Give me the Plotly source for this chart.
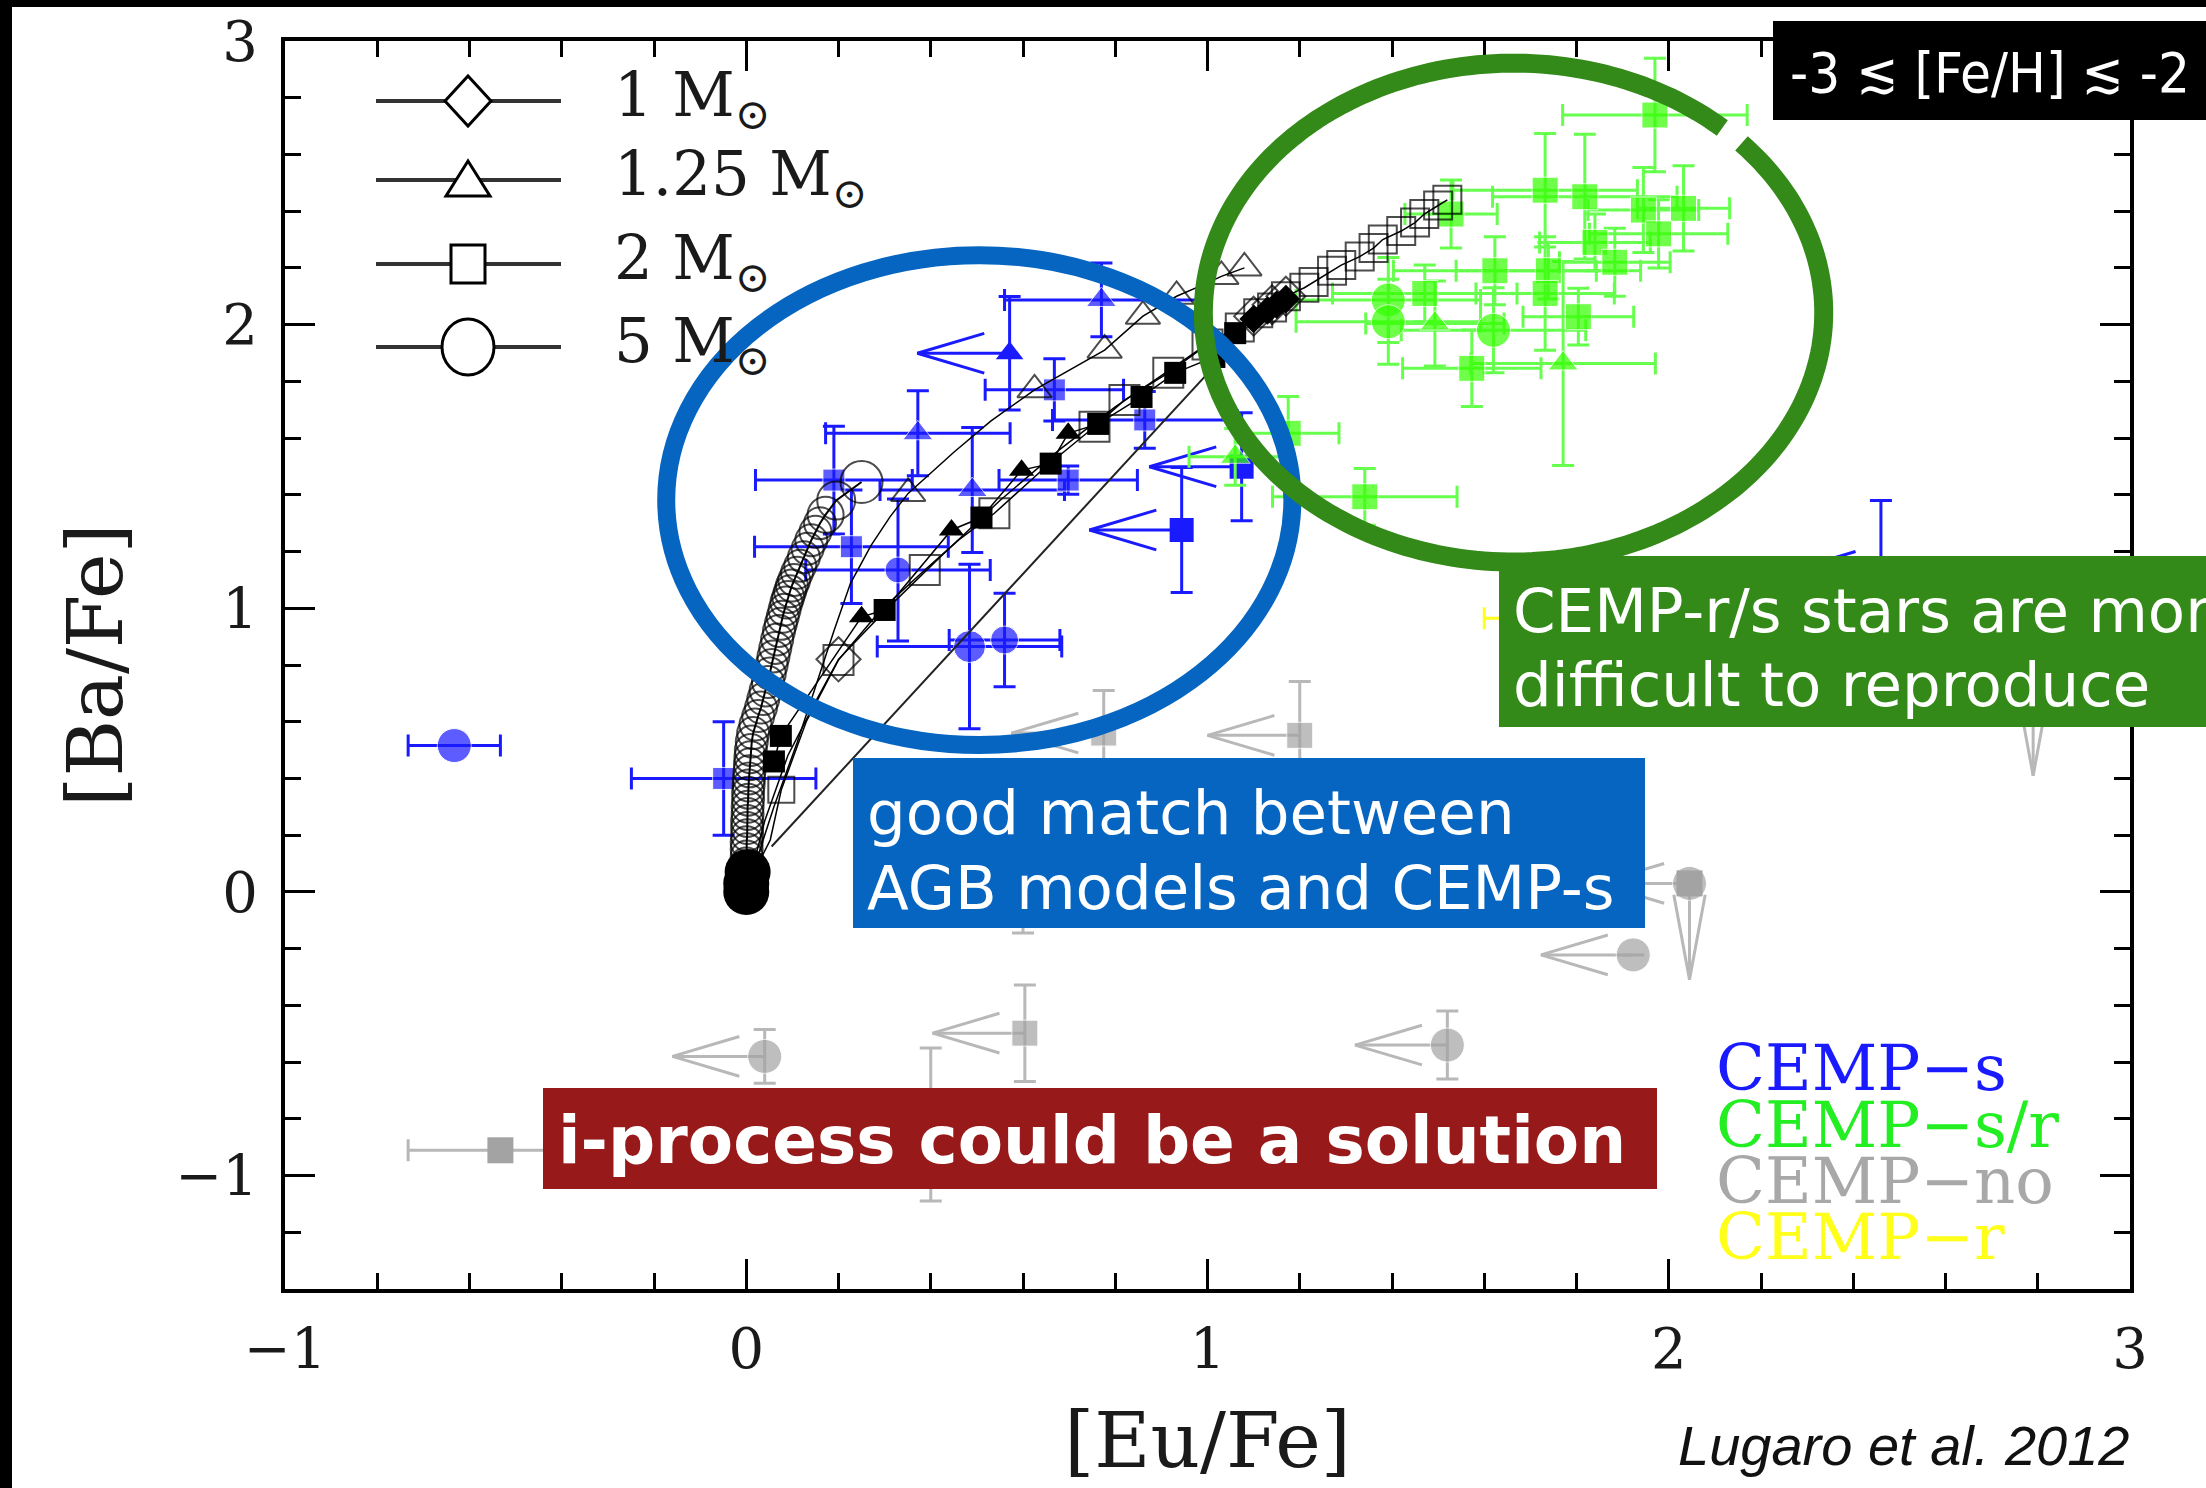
import numpy as np
import plotly.graph_objects as go

# ---------------- axis ticks ----------------
x_ticks = [-1, 0, 1, 2, 3]
y_ticks = [-1, 0, 1, 2, 3]
x_ticklabels = ["\u22121", "0", "1", "2", "3"]
y_ticklabels = ["\u22121", "0", "1", "2", "3"]

# ---------------- CEMP-s (blue) ----------------
s_x = [-0.633, -0.049, 0.190, 0.372, 0.228, 0.329, 0.490, 0.668, 0.698, 0.484, 0.560, 0.770, 0.864]
s_y = [0.516, 0.400, 1.452, 1.617, 1.217, 1.135, 1.417, 1.770, 1.452, 0.865, 0.888, 2.087, 1.664]
s_xerr = [0.10, 0.20, 0.17, 0.20, 0.21, 0.20, 0.20, 0.15, 0.15, 0.20, 0.12, 0.21, 0.20]
s_yerr = [0.00, 0.20, 0.19, 0.15, 0.20, 0.25, 0.22, 0.11, 0.05, 0.29, 0.165, 0.13, 0.10]
s_sym = ["circle", "square", "square", "triangle-up", "square", "circle", "triangle-up",
         "square", "square", "circle", "circle", "triangle-up", "square"]
s_size = [34, 22, 22, 26, 22, 26, 26, 22, 22, 32, 28, 26, 22]
# CEMP-s upper limits on [Eu/Fe]
sl_x = [0.571, 0.944, 1.074, 2.460]
sl_y = [1.899, 1.276, 1.499, 1.130]
sl_yerr = [0.20, 0.22, 0.19, 0.25]
sl_sym = ["triangle-up", "square", "square", "square"]

# ---------------- CEMP-s/r (green) ----------------
r_x = [1.970, 1.732, 1.818, 1.945, 2.032, 1.978, 1.840, 1.883, 1.623, 1.739, 1.732, 1.804,
       1.620, 1.573, 1.771, 1.392, 1.392, 1.471, 1.493, 1.341, 1.175, 1.060, 1.528]
r_y = [2.739, 2.474, 2.451, 2.404, 2.410, 2.320, 2.290, 2.220, 2.190, 2.190, 2.110, 2.028,
       1.980, 1.846, 1.863, 2.087, 2.010, 2.110, 2.004, 1.393, 1.617, 1.534, 2.390]
r_xerr = [0.20, 0.20, 0.20, 0.12, 0.10, 0.15, 0.12, 0.12, 0.22, 0.20, 0.15, 0.12,
          0.20, 0.15, 0.20, 0.20, 0.20, 0.20, 0.15, 0.20, 0.11, 0.10, 0.10]
r_yerr = [0.20, 0.20, 0.22, 0.15, 0.15, 0.12, 0.10, 0.12, 0.12, 0.10, 0.20, 0.10,
          0.15, 0.135, 0.36, 0.15, 0.15, 0.10, 0.15, 0.10, 0.13, 0.10, 0.12]
r_sym = ["square"] * 12 + ["circle", "square", "triangle-up", "circle", "circle", "square",
                           "triangle-up", "square", "square", "triangle-up", "square"]

# ---------------- CEMP-no (grey) ----------------
n_x = [-0.533, 0.400, 0.600]
n_y = [-0.911, -0.820, 0.100]
n_xerr = [0.20, 0.0, 0.0]
n_yerr = [0.0, 0.27, 0.245]
n_sym = ["square", "square", "square"]
# upper limits on [Eu/Fe]
nl_x = [0.040, 0.604, 1.520, 1.923, 2.045, 1.200, 0.775]
nl_y = [-0.580, -0.498, -0.540, -0.222, 0.030, 0.552, 0.560]
nl_yerr = [0.095, 0.17, 0.12, 0.0, 0.0, 0.19, 0.15]
nl_sym = ["circle", "square", "circle", "circle", "circle", "square", "square"]
# upper limits on [Ba/Fe]
nd_x = [2.045, 2.790]
nd_y = [0.030, 0.750]

# ---------------- CEMP-r (yellow) ----------------
e_x = [1.660]
e_y = [0.965]
e_xerr = [0.06]

# ---------------- AGB model tracks ----------------
m5_x = [0.000, 0.000, 0.000, 0.000, 0.000, 0.001, 0.001, 0.001, 0.002, 0.002,
        0.002, 0.003, 0.003, 0.004, 0.004, 0.005, 0.006, 0.007, 0.008, 0.009,
        0.010, 0.012, 0.015, 0.020, 0.026, 0.032, 0.037, 0.042, 0.047, 0.051,
        0.055, 0.059, 0.063, 0.067, 0.071, 0.075, 0.079, 0.083, 0.087, 0.091,
        0.095, 0.099, 0.104, 0.110, 0.117, 0.125, 0.133, 0.141, 0.150, 0.160,
        0.172, 0.195, 0.250]
m5_y = [0.000, 0.025, 0.050, 0.075, 0.100, 0.125, 0.150, 0.175, 0.200, 0.225,
        0.250, 0.275, 0.300, 0.325, 0.350, 0.375, 0.400, 0.425, 0.450, 0.475,
        0.500, 0.530, 0.560, 0.590, 0.620, 0.650, 0.680, 0.710, 0.740, 0.770,
        0.800, 0.830, 0.860, 0.890, 0.920, 0.945, 0.970, 0.995, 1.020, 1.040,
        1.060, 1.080, 1.100, 1.125, 1.150, 1.180, 1.210, 1.240, 1.270, 1.300,
        1.330, 1.380, 1.445]
m5_size = [32] * 50 + [36, 38, 42]

m125_x = [0.02, 0.06, 0.11, 0.153, 0.19, 0.226, 0.27, 0.312, 0.351, 0.45, 0.53, 0.625,
          0.70, 0.777, 0.86, 0.933, 0.99, 1.03, 1.08]
m125_y = [0.10, 0.30, 0.525, 0.736, 0.92, 1.088, 1.22, 1.323, 1.405, 1.55, 1.66, 1.77,
          1.84, 1.91, 2.03, 2.10, 2.14, 2.17, 2.20]
m125_size = [0, 0, 0, 0, 0, 0, 0, 0, 30, 0, 0, 30, 0, 30, 30, 30, 0, 30, 30]

m2_x = [0.02, 0.052, 0.076, 0.13, 0.20, 0.29, 0.387, 0.46, 0.538, 0.65, 0.755, 0.82,
        0.915, 1.00, 1.07, 1.11, 1.14, 1.17, 1.21, 1.23, 1.27, 1.29, 1.33, 1.36, 1.38,
        1.42, 1.45, 1.47, 1.50, 1.52]
m2_y = [0.08, 0.183, 0.36, 0.60, 0.818, 0.99, 1.135, 1.24, 1.335, 1.50, 1.64, 1.734,
        1.83, 1.93, 1.99, 2.04, 2.06, 2.10, 2.13, 2.15, 2.19, 2.21, 2.24, 2.27, 2.30,
        2.33, 2.36, 2.39, 2.42, 2.44]
m2_size = [0, 0, 26, 0, 30, 0, 30, 0, 30, 0, 30, 30, 30, 30] + [28] * 16

m1_x = [0.01, 0.04, 0.09, 0.15, 0.20, 0.30, 0.42, 0.55, 0.68, 0.80, 0.90, 0.98, 1.05,
        1.10, 1.14, 1.17]
m1_y = [0.06, 0.25, 0.48, 0.67, 0.82, 0.99, 1.18, 1.38, 1.56, 1.71, 1.82, 1.91, 1.98,
        2.03, 2.07, 2.10]
m1_size = [0, 0, 0, 0, 34, 0, 0, 0, 0, 0, 0, 0, 0, 30, 30, 30]

f_x = [0.060, 0.075, 0.250, 0.300, 0.445, 0.510, 0.597, 0.660, 0.698, 0.763, 0.857, 0.930,
       1.015, 1.060, 1.100, 1.130, 1.150, 1.170]
f_y = [0.460, 0.550, 0.970, 0.994, 1.276, 1.320, 1.487, 1.510, 1.617, 1.650, 1.745, 1.830,
       1.886, 1.970, 2.020, 2.050, 2.070, 2.090]
f_sym = ["square", "square", "triangle-up", "square", "triangle-up", "square", "triangle-up",
         "square", "triangle-up", "square", "square", "square", "square", "square",
         "diamond", "diamond", "diamond", "diamond"]

origin_x = [0.000, 0.000, 0.003]
origin_y = [0.000, 0.030, 0.070]

dil_x = [0.055, 1.030]
dil_y = [0.160, 1.880]

# ---------------- helpers ----------------
BLUE = "#1a1aff"
GREEN = "#33ff00"
GREEN_ERR = "#66ff4d"
GREY = "#a3a3a3"
GREY_ERR = "#b8b8b8"
YELLOW = "#ffff1a"
SERIF = "DejaVu Serif"


def left_arrows(xs, ys, length=0.2, ax=0.145, ay=0.07):
    X, Y = [], []
    for x, y in zip(xs, ys):
        tip = x - length
        X += [x, tip, None, tip + ax, tip, tip + ax, None]
        Y += [y, y, None, y + ay, y, y - ay, None]
    return X, Y


def down_arrows(xs, ys, length=0.34, ax=0.034, ay=0.30):
    X, Y = [], []
    for x, y in zip(xs, ys):
        tip = y - length
        X += [x, x, None, x - ax, x, x + ax, None]
        Y += [y, tip, None, tip + ay, tip, tip + ay, None]
    return X, Y


fig = go.Figure()

# CEMP-no
fig.add_trace(go.Scatter(
    x=n_x, y=n_y, mode="markers",
    marker=dict(symbol=n_sym, size=26, color=GREY),
    error_x=dict(type="data", array=n_xerr, color=GREY_ERR, thickness=3, width=11),
    error_y=dict(type="data", array=n_yerr, color=GREY_ERR, thickness=3, width=11),
    showlegend=False))
ax_, ay_ = left_arrows(nl_x, nl_y)
fig.add_trace(go.Scatter(x=ax_, y=ay_, mode="lines", line=dict(color=GREY_ERR, width=3),
                         showlegend=False))
dx_, dy_ = down_arrows(nd_x, nd_y)
fig.add_trace(go.Scatter(x=dx_, y=dy_, mode="lines", line=dict(color=GREY_ERR, width=3),
                         showlegend=False))
fig.add_trace(go.Scatter(
    x=nl_x, y=nl_y, mode="markers",
    marker=dict(symbol=nl_sym, size=[34 if s == "circle" else 26 for s in nl_sym], color=GREY),
    error_y=dict(type="data", array=nl_yerr, color=GREY_ERR, thickness=3, width=11),
    showlegend=False))
fig.add_trace(go.Scatter(x=nd_x, y=nd_y, mode="markers",
                         marker=dict(symbol="square", size=26, color=GREY), showlegend=False))

# CEMP-r
fig.add_trace(go.Scatter(
    x=e_x, y=e_y, mode="markers", marker=dict(symbol="square", size=20, color=YELLOW),
    error_x=dict(type="data", array=e_xerr, color=YELLOW, thickness=3, width=11),
    showlegend=False))

# CEMP-s
fig.add_trace(go.Scatter(
    x=s_x, y=s_y, mode="markers",
    marker=dict(symbol=s_sym, size=s_size, color=BLUE),
    error_x=dict(type="data", array=s_xerr, color=BLUE, thickness=3, width=11),
    error_y=dict(type="data", array=s_yerr, color=BLUE, thickness=3, width=11),
    showlegend=False))
bx_, by_ = left_arrows(sl_x, sl_y)
fig.add_trace(go.Scatter(x=bx_, y=by_, mode="lines", line=dict(color=BLUE, width=3),
                         showlegend=False))
fig.add_trace(go.Scatter(
    x=sl_x, y=sl_y, mode="markers",
    marker=dict(symbol=sl_sym, size=24, color=BLUE),
    error_y=dict(type="data", array=sl_yerr, color=BLUE, thickness=3, width=11),
    showlegend=False))

# CEMP-s/r
fig.add_trace(go.Scatter(
    x=r_x, y=r_y, mode="markers",
    marker=dict(symbol=r_sym, size=[34 if s == "circle" else 26 for s in r_sym], color=GREEN),
    error_x=dict(type="data", array=r_xerr, color=GREEN_ERR, thickness=3, width=11),
    error_y=dict(type="data", array=r_yerr, color=GREEN_ERR, thickness=3, width=11),
    showlegend=False))

# Models
fig.add_trace(go.Scatter(x=dil_x, y=dil_y, mode="lines",
                         line=dict(color="#222", width=2), showlegend=False))
fig.add_trace(go.Scatter(
    x=m5_x, y=m5_y, mode="lines+markers", line=dict(color="black", width=2),
    marker=dict(symbol="circle-open", size=m5_size, color="black", line=dict(width=2)),
    showlegend=False))
fig.add_trace(go.Scatter(
    x=m1_x, y=m1_y, mode="lines+markers", line=dict(color="black", width=1.5),
    marker=dict(symbol="diamond-open", size=m1_size, color="black", line=dict(width=2)),
    showlegend=False))
fig.add_trace(go.Scatter(
    x=m125_x, y=m125_y, mode="lines+markers", line=dict(color="black", width=1.5),
    marker=dict(symbol="triangle-up-open", size=m125_size, color="black", line=dict(width=2)),
    showlegend=False))
fig.add_trace(go.Scatter(
    x=m2_x, y=m2_y, mode="lines+markers", line=dict(color="black", width=1.5),
    marker=dict(symbol="square-open", size=m2_size, color="black", line=dict(width=2)),
    showlegend=False))
fig.add_trace(go.Scatter(
    x=f_x, y=f_y, mode="lines+markers", line=dict(color="black", width=1.5),
    marker=dict(symbol=f_sym, size=22, color="black"),
    showlegend=False))
fig.add_trace(go.Scatter(
    x=origin_x, y=origin_y, mode="markers",
    marker=dict(symbol="circle", size=46, color="black"), showlegend=False))

# ---------------- layout geometry (pixels -> paper) ----------------
PL, PR, PT, PB = 285, 2130, 41, 1289
W, H = PR - PL, PB - PT


def P(xp):
    return (xp - PL) / W


def Q(yp):
    return (PB - yp) / H


shapes = []
# black screenshot borders
shapes.append(dict(type="rect", xref="paper", yref="paper", x0=P(0), x1=P(12), y0=Q(1490), y1=Q(0),
                   fillcolor="black", line=dict(width=0), layer="above"))
shapes.append(dict(type="rect", xref="paper", yref="paper", x0=P(0), x1=P(2210), y0=Q(7), y1=Q(0),
                   fillcolor="black", line=dict(width=0), layer="above"))

# blue ellipse
shapes.append(dict(type="circle", xref="x", yref="y", x0=-0.1735, x1=1.184, y0=0.518, y1=2.245,
                   line=dict(color="#0565c0", width=18), layer="above"))
# green ellipse with small gap
cx, cy, rx, ry = 1.6635, 2.0425, 0.6725, 0.8795
t = np.radians(np.linspace(47.7, 360 + 42.7, 240))
gx = cx + rx * np.cos(t)
gy = cy + ry * np.sin(t)
path = "M " + " L ".join(f"{a:.4f},{b:.4f}" for a, b in zip(gx, gy))
shapes.append(dict(type="path", xref="x", yref="y", path=path,
                   line=dict(color="#338a18", width=19), layer="above"))

# text boxes
shapes.append(dict(type="rect", xref="paper", yref="paper", x0=P(1773), x1=P(2215), y0=Q(120), y1=Q(21),
                   fillcolor="black", line=dict(width=0), layer="above"))
shapes.append(dict(type="rect", xref="paper", yref="paper", x0=P(1499), x1=P(2215), y0=Q(727), y1=Q(556),
                   fillcolor="#338a18", line=dict(width=0), layer="above"))
shapes.append(dict(type="rect", xref="paper", yref="paper", x0=P(853), x1=P(1645), y0=Q(928), y1=Q(758),
                   fillcolor="#0565c0", line=dict(width=0), layer="above"))
shapes.append(dict(type="rect", xref="paper", yref="paper", x0=P(543), x1=P(1657), y0=Q(1189), y1=Q(1088),
                   fillcolor="#971919", line=dict(width=0), layer="above"))

# model legend (top-left): lines + symbols
leg_rows = [101, 180, 264, 347]
leg_labels = ["1 M<sub>\u2299</sub>", "1.25 M<sub>\u2299</sub>", "2 M<sub>\u2299</sub>", "5 M<sub>\u2299</sub>"]
for yy in leg_rows:
    shapes.append(dict(type="line", xref="paper", yref="paper", x0=P(376), x1=P(561), y0=Q(yy), y1=Q(yy),
                       line=dict(color="#333", width=4), layer="above"))
sym_common = dict(xref="paper", yref="paper", xsizemode="pixel", ysizemode="pixel",
                  xanchor=P(468), fillcolor="white", line=dict(color="black", width=3), layer="above")
shapes.append(dict(type="path", yanchor=Q(leg_rows[0]), path="M -23,0 L 0,25 L 23,0 L 0,-25 Z", **sym_common))
shapes.append(dict(type="path", yanchor=Q(leg_rows[1]), path="M -22,-16 L 22,-16 L 0,19 Z", **sym_common))
shapes.append(dict(type="rect", yanchor=Q(leg_rows[2]), x0=-17, x1=17, y0=-19, y1=19, **sym_common))
shapes.append(dict(type="circle", yanchor=Q(leg_rows[3]), x0=-26, x1=26, y0=-28, y1=28, **sym_common))

annotations = []
for yy, lab in zip(leg_rows, leg_labels):
    annotations.append(dict(xref="paper", yref="paper", x=P(612), y=Q(yy - 2), xanchor="left",
                            yanchor="middle", text=lab, showarrow=False,
                            font=dict(family=SERIF, size=61, color="#1a1a1a")))

# CEMP class legend (bottom right)
cls_labels = ["CEMP\u2212s", "CEMP\u2212s/r", "CEMP\u2212no", "CEMP\u2212r"]
cls_colors = [BLUE, "#22ee22", "#a8a8a8", YELLOW]
cls_y = [1068, 1125, 1181, 1237]
for lab, col, yy in zip(cls_labels, cls_colors, cls_y):
    annotations.append(dict(xref="paper", yref="paper", x=P(1714), y=Q(yy), xanchor="left",
                            yanchor="middle", text=lab, showarrow=False,
                            font=dict(family=SERIF, size=64, color=col)))

sans = "DejaVu Sans"
annotations += [
    dict(xref="paper", yref="paper", x=P(1990), y=Q(72), xanchor="center", yanchor="middle",
         text="-3 \u2272 [Fe/H] \u2272 -2", showarrow=False,
         font=dict(family="DejaVu Sans Condensed, Liberation Sans Narrow, Liberation Sans", size=56, color="white")),
    dict(xref="paper", yref="paper", x=P(1511), y=Q(610), xanchor="left", yanchor="middle",
         text="CEMP-r/s stars are more", showarrow=False, font=dict(family=sans, size=61, color="white")),
    dict(xref="paper", yref="paper", x=P(1511), y=Q(684), xanchor="left", yanchor="middle",
         text="difficult to reproduce", showarrow=False, font=dict(family=sans, size=61, color="white")),
    dict(xref="paper", yref="paper", x=P(865), y=Q(812), xanchor="left", yanchor="middle",
         text="good match between", showarrow=False, font=dict(family=sans, size=61, color="white")),
    dict(xref="paper", yref="paper", x=P(865), y=Q(887), xanchor="left", yanchor="middle",
         text="AGB models and CEMP-s", showarrow=False, font=dict(family=sans, size=61, color="white")),
    dict(xref="paper", yref="paper", x=P(556), y=Q(1140), xanchor="left", yanchor="middle",
         text="<b>i-process could be a solution</b>", showarrow=False,
         font=dict(family=sans, size=66, color="white")),
    dict(xref="paper", yref="paper", x=P(2131), y=Q(1446), xanchor="right", yanchor="middle",
         text="<i>Lugaro et al. 2012</i>", showarrow=False,
         font=dict(family="Liberation Sans", size=56, color="#111111")),
]

axis_common = dict(
    showline=True, linecolor="black", linewidth=4, mirror="ticks",
    ticks="inside", ticklen=30, tickwidth=3, tickcolor="black",
    showgrid=False, zeroline=False, automargin=False,
    tickfont=dict(family=SERIF, size=56, color="#1a1a1a"),
    minor=dict(ticks="inside", ticklen=16, tickwidth=3, tickcolor="black", dtick=0.2, tick0=0, showgrid=False),
)

fig.update_layout(
    width=2206, height=1488, autosize=False,
    margin=dict(l=PL, r=2206 - PR, t=PT, b=1488 - PB, pad=0),
    paper_bgcolor="white", plot_bgcolor="white",
    template="none",
    showlegend=False,
    xaxis=dict(range=[-1, 3], tickvals=x_ticks, ticktext=x_ticklabels, ticklabelstandoff=8,
               title=dict(text="[Eu/Fe]", font=dict(family=SERIF, size=77, color="#1a1a1a"),
                          standoff=34),
               **axis_common),
    yaxis=dict(range=[-1.4, 3], tickvals=y_ticks, ticktext=y_ticklabels, ticklabelstandoff=12,
               title=dict(text="[Ba/Fe]", font=dict(family=SERIF, size=77, color="#1a1a1a"),
                          standoff=28),
               **axis_common),
    shapes=shapes,
    annotations=annotations,
)

fig.write_html("out.html")
